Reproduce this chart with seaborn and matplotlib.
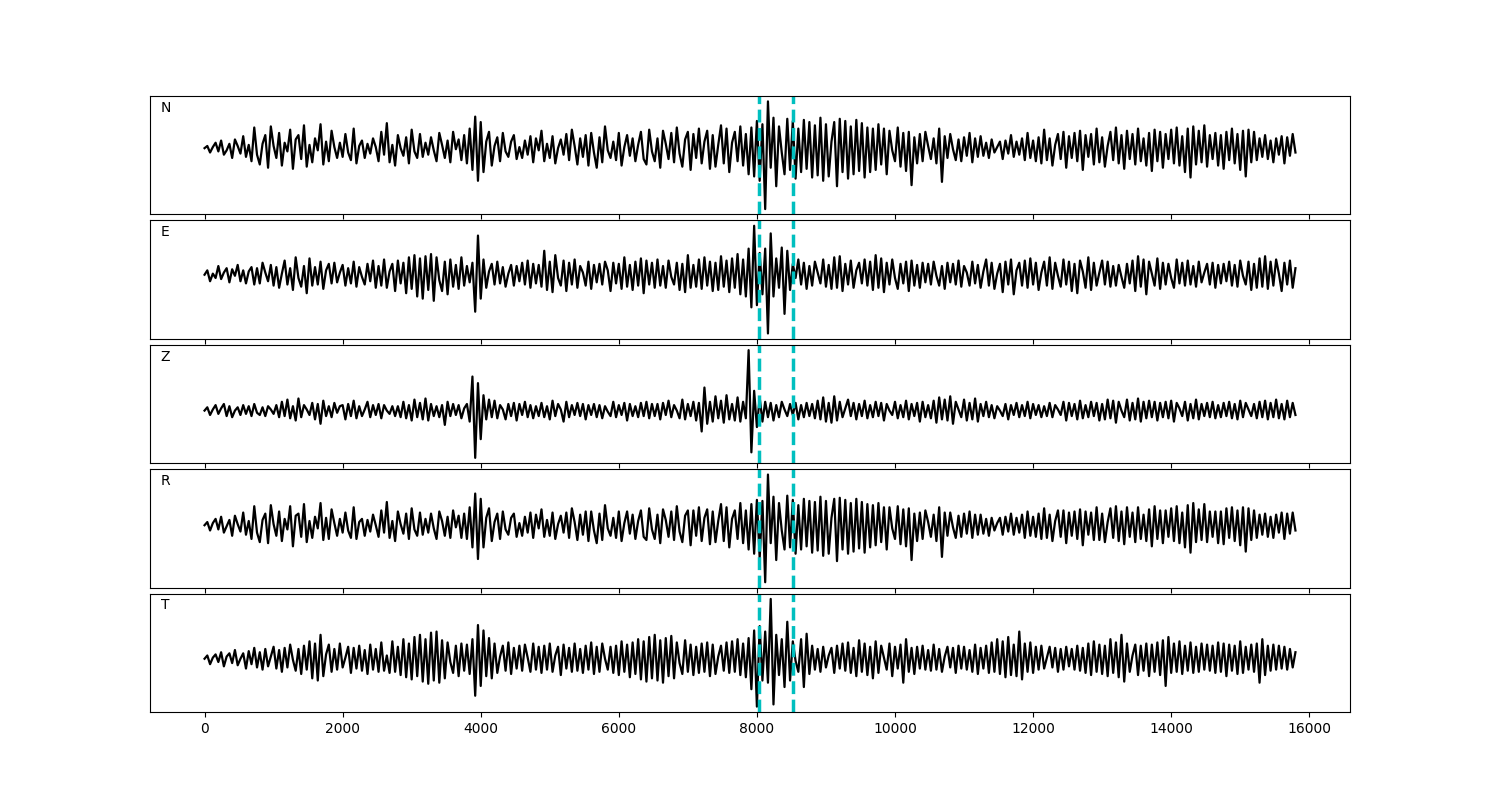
import numpy as np
import matplotlib
matplotlib.use("Agg")
import matplotlib.pyplot as plt
import seaborn as sns

# Data =====================================================================
# traces, one value every DT samples (pixel-ish units)
DT = 40

trace_n = [
    0, 2, -4, 1, 5, -3, 7, -6, -2, 4, -9, 8, 2, -5, 11, -8, 3, -12, 19, -6,
    -15, 4, 12, -18, 20, 2, -9, 14, -16, 5, -3, 17, -19, 8, 12, -10, 21, -17, 3, -13,
    9, -2, 22, -15, 6, -12, 16, 1, -9, 5, -8, 13, -4, -11, 18, -14, 2, 7, -9, 4,
    -5, 9, 1, -12, 15, -6, 23, -13, 3, -16, 12, 0, -7, 10, -14, 17, -3, -9, 13, -8,
    5, -6, 10, -2, -12, 14, 3, -9, 7, -13, 15, -1, 8, -11, 12, -14, 18, -20, 29, -30,
    24, -22, 6, 15, -16, 2, 10, -12, 14, -3, -8, 6, 12, -10, 1, -9, 7, -6, 11, -13,
    9, -2, 16, -12, 4, -9, 11, -14, 0, 8, -6, 13, -11, 17, 2, -15, 9, -8, 12, -16,
    14, -4, -18, 10, -13, 20, -2, -9, 6, -11, 14, -16, 1, 12, -7, 9, -12, 3, 15, -10,
    -15, 17, -3, -12, 9, -18, 16, 4, -10, 14, -13, 19, -5, -17, 8, 15, -20, 13, -9, 18,
    -14, 6, 16, -19, 12, -17, 3, 21, -14, 18, -22, 5, 15, -12, 20, -16, 13, -24, 19, -26,
    25, -30, 22, -56, 43, -18, 28, -35, 20, -4, -24, 27, -20, 25, -28, 18, -22, 26, -19, 24,
    -27, 21, -25, 28, -30, 22, -26, 6, 24, -35, 27, -22, 25, -28, 20, -24, 26, -21, 23, -27,
    19, -22, 18, -20, 22, -15, 18, -24, 16, -2, -12, 19, -17, 14, -21, 15, -34, 10, -14, 13,
    -12, 15, 2, -10, 9, -14, 18, -31, 11, -9, 13, -1, -11, 8, -12, 10, -7, 14, -13, 9,
    -8, 11, -7, 5, -9, 8, -4, 1, 6, -10, 7, -5, 12, -8, 6, -6, 9, -11, 14, -9,
    7, -12, 10, -14, 17, -11, 9, -16, 3, 13, -10, 15, -18, 11, -9, 14, -12, 16, -20, 12,
    -8, 13, -15, 18, -13, 10, -17, 2, 15, -11, 19, -14, 12, -19, 16, -10, 13, -15, 18, -12,
    9, -16, 14, -21, 17, -12, 15, -18, 13, -10, 17, -14, 19, -16, 11, -22, 18, -27, 20, -15,
    16, -13, 21, -17, 12, -10, 14, -16, 12, -19, 15, -11, 18, -14, 13, -20, 16, -26, 17, -13,
    15, -11, 9, -8, 12, -10, 7, -13, 9, -6, 11, -14, 10, -7, 13, -4,
]

trace_e = [
    0, 4, -6, 1, -3, 8, -4, 2, 6, -7, 5, -1, 9, -6, 4, -8, 3, 7, -9, 6,
    -8, 11, 2, -6, 9, -10, 7, -12, 1, 13, -9, 6, -14, 16, -3, -11, 8, -17, 15, -10,
    7, -9, 12, -13, 4, 10, -8, 11, -7, 2, 9, -10, 6, -8, 12, -11, 7, -2, -9, 10,
    -6, 13, -12, 8, -10, 14, -12, 3, 10, -15, 13, -8, 11, -17, 16, -13, 18, -20, 15, -22,
    17, -14, 19, -24, 16, -5, -15, 12, -18, 14, -11, 9, -13, 16, -10, 8, -7, 11, -34, 36,
    -22, 14, -12, 3, 10, -9, 12, -8, 7, -11, 1, 9, -10, 8, -6, 11, -9, 13, -12, 10,
    -8, 9, -11, 22, -14, 12, -16, 18, -3, -10, 13, -15, 11, -9, 14, -12, 8, 2, -10, 12,
    -13, 9, -7, 10, -9, 12, 4, -15, 11, -8, 10, -13, 16, -11, 9, -14, 12, -10, 15, -17,
    13, -9, 11, -12, 14, -10, 8, -12, 13, -2, -9, 11, -14, 10, -16, 18, -12, 9, -11, 14,
    -13, 16, -10, 12, -15, 11, -14, 17, -11, 13, -16, 15, -12, 19, -18, 14, -20, 24, -30, 45,
    -28, 20, -18, 24, -54, 38, -20, 15, -12, 25, -36, 22, -14, 10, -3, 14, -9, 11, -13, 8,
    -10, 12, 2, -8, 14, -11, 9, -13, 16, -12, 17, -15, 10, -9, 13, -12, 4, 11, -8, 14,
    -10, 12, -14, 18, -12, 15, -16, 11, -9, 14, -3, -13, 10, -8, 12, -15, 13, -10, 9, -12,
    11, -7, 10, -9, 12, -1, -10, 8, -13, 11, -7, 10, -9, 13, -11, 8, 2, -10, 12, -8,
    9, -12, 3, 14, -10, 11, -13, 1, 10, -16, 12, -9, 14, -18, 4, 11, -10, 13, -12, 15,
    -9, 11, -14, 2, 12, -10, 16, -13, 11, -1, -11, 14, -9, 12, -15, 10, -17, 13, 3, -12,
    16, -14, 11, -10, 2, 13, -9, 12, -11, 8, -10, 9, -2, -12, 10, -8, 13, -15, 17, -11,
    14, -18, 12, 1, -10, 15, -13, 11, -9, 10, -3, -12, 14, -8, 11, -10, 13, -9, 8, -11,
    12, -7, 2, 10, -9, 11, -12, 9, -8, 10, -6, 12, -10, 9, -11, 13, -1, -9, 12, -14,
    10, -12, 15, -11, 17, -13, 12, -10, 14, 1, -15, 11, -9, 13, -12, 6,
]

trace_z = [
    0, 3, -4, 1, 5, -3, 2, 6, -5, 4, -6, 0, 3, -4, 5, -3, 4, -5, 6, -2,
    -4, 3, -5, 4, 1, -3, 5, -6, 8, -5, 10, -7, 4, -9, 11, -6, 5, 1, -4, 7,
    -8, 6, -12, 9, -5, 4, -6, 7, -2, 4, 5, -8, 6, -5, 9, -7, 4, -5, 1, 8,
    -6, 5, -4, 6, -7, 5, 0, -3, 4, -5, 4, -6, 8, -7, 5, -9, 10, -6, 7, -8,
    11, -9, 6, -5, 4, -6, 5, -13, 8, -5, 6, -4, 5, -7, 2, 6, -10, 31, -43, 25,
    -26, 14, -8, 10, -6, 9, -7, 5, 1, -8, 6, -5, 7, -9, 6, -4, 8, -6, 5, -7,
    4, -5, 7, -6, 4, -8, 9, -5, 6, 1, -10, 8, -6, 5, -4, 7, -5, 6, -8, 5,
    -4, 6, -6, 5, -7, 4, -1, -5, 8, -6, 5, -4, 7, -9, 6, -5, 4, -6, 7, -5,
    8, -7, 6, -5, 6, -8, 7, -4, 9, -6, 5, 0, -7, 10, -8, 6, -5, 8, -9, 7,
    -19, 21, -12, 8, -10, 13, -7, 9, -11, 14, -8, 6, -9, 12, -10, 8, -7, 55, -38, 18,
    -15, 12, -10, 8, -6, 7, -9, 5, -6, 8, 1, -5, 6, -4, 7, -8, 5, -6, 7, -5,
    6, -7, 9, -8, 12, -10, 7, -11, 13, -9, 8, -6, 2, 10, -5, 7, -8, 6, -5, 9,
    -7, 5, -6, 8, -5, 7, -9, 6, 0, -4, 8, -7, 5, -6, 9, -8, 6, -5, 7, -10,
    8, -6, 5, -7, 9, -11, 12, -8, 10, -9, 13, -12, 8, 1, -6, 10, -9, 7, -8, 11,
    -10, 6, -5, 8, -6, 5, -7, 4, 0, -5, 6, -8, 5, -4, 7, -6, 5, -5, 8, -7,
    6, -4, 5, -6, 4, -5, 7, -6, 5, 1, -4, 8, -9, 7, -5, 6, -8, 9, -7, 5,
    -6, 8, -5, 7, -9, 6, -8, 10, -7, 9, -11, 8, 0, -6, 10, -9, 7, -8, 11, -10,
    8, -7, 9, -6, 8, -9, 7, -6, 8, -7, 9, -10, 7, 2, -5, 8, -9, 6, -7, 10,
    -8, 6, -5, 7, -6, 8, -7, 5, -6, 7, -5, 8, -7, 6, -8, 9, -6, 7, 1, -5,
    6, -7, 8, -6, 9, -8, 7, -6, 10, -7, 6, -8, 9, -6, 7, -4,
]

trace_r = [
    0, 3, -5, 2, 6, -4, 8, -7, -1, 5, -10, 9, 1, -6, 12, -9, 4, -13, 18, -7,
    -16, 5, 11, -17, 19, 1, -10, 13, -15, 6, -4, 18, -20, 9, 11, -11, 20, -16, 4, -12,
    8, -3, 21, -14, 7, -13, 15, 2, -10, 6, -7, 12, -5, -12, 17, -13, 3, 6, -10, 5,
    -6, 10, 0, -11, 14, -7, 22, -12, 4, -15, 13, 1, -8, 11, -13, 16, -4, -10, 12, -9,
    6, -7, 11, -3, -13, 13, 4, -10, 8, -12, 14, -2, 9, -12, 11, -13, 17, -21, 30, -32,
    25, -21, 7, 16, -15, 3, 11, -13, 13, -4, -9, 7, 11, -11, 2, -10, 8, -7, 12, -12,
    10, -3, 15, -11, 5, -10, 12, -13, 1, 9, -7, 12, -12, 16, 3, -14, 10, -9, 13, -15,
    13, -5, -17, 11, -14, 19, -3, -10, 7, -12, 13, -15, 2, 13, -8, 10, -13, 4, 14, -11,
    -14, 16, -4, -13, 10, -17, 15, 5, -11, 13, -14, 18, -6, -16, 9, 14, -19, 14, -10, 17,
    -15, 7, 15, -18, 13, -16, 4, 20, -15, 17, -21, 6, 14, -13, 21, -17, 14, -23, 20, -27,
    24, -31, 23, -54, 48, -17, 27, -33, 21, -5, -23, 28, -21, 24, -27, 19, -23, 25, -20, 23,
    -26, 22, -24, 27, -29, 23, -27, 7, 25, -34, 26, -23, 24, -27, 21, -25, 25, -22, 22, -26,
    20, -21, 19, -19, 21, -16, 17, -23, 17, -3, -13, 18, -18, 15, -20, 16, -33, 11, -15, 12,
    -13, 14, 3, -11, 10, -15, 17, -30, 12, -10, 12, -2, -12, 9, -11, 11, -8, 13, -12, 10,
    -9, 10, -8, 6, -10, 7, -5, 2, 7, -9, 8, -6, 11, -9, 7, -7, 10, -12, 13, -10,
    8, -11, 11, -13, 16, -12, 10, -15, 4, 14, -11, 14, -17, 12, -10, 13, -13, 15, -19, 13,
    -9, 12, -14, 17, -14, 11, -16, 3, 16, -12, 18, -15, 13, -18, 17, -11, 12, -16, 17, -13,
    10, -15, 15, -20, 18, -13, 14, -17, 14, -11, 16, -15, 18, -17, 12, -21, 19, -26, 21, -16,
    15, -14, 20, -16, 13, -11, 13, -17, 13, -18, 16, -12, 17, -15, 14, -19, 17, -25, 16, -14,
    14, -12, 10, -9, 11, -11, 8, -12, 10, -7, 12, -13, 11, -8, 12, -5,
]

trace_t = [
    0, 3, -5, 1, 4, -3, 6, -7, 2, 5, -4, 8, -6, 0, 5, -9, 7, -5, 10, -8,
    6, -10, 9, -7, 2, 11, -9, 8, -12, 10, -8, 13, -1, -11, 9, -14, 12, -10, 16, -18,
    14, -20, 22, -16, 4, 13, -12, 9, -10, 14, -8, 1, 11, -13, 10, -9, 12, -11, 8, -14,
    13, -10, 9, -12, 15, -11, 3, -13, 16, -12, 11, -15, 18, -17, 14, -19, 20, -16, 22, -21,
    18, -23, 24, -20, 25, -22, 17, -18, 15, -3, -13, 12, -16, 14, -11, 13, -14, 18, -34, 31,
    -25, 26, -16, 19, -18, 14, -13, 2, 12, -11, 15, -14, 10, -9, 12, -11, 13, 1, -12, 14,
    -10, 11, -13, 12, -10, 14, -12, 3, 11, -15, 13, -9, 10, -12, 14, -11, 9, -13, 12, -10,
    15, -14, 11, -12, 14, 0, -10, 11, -13, 12, -15, 16, -12, 13, -17, 15, -14, 18, -19, 16,
    -21, 20, -18, 22, -20, 17, -22, 19, -16, 21, -18, 15, -4, -14, 17, -12, 13, -15, 11, -13,
    14, -12, 15, -16, 13, -14, 2, 12, -11, 15, -13, 16, -12, 18, -15, 14, -17, 19, -28, 26,
    -44, 30, -20, 25, -22, 55, -42, 22, -15, 18, -26, 34, -20, 16, -2, -12, 18, -26, 23, -14,
    12, -10, 9, -12, 11, -8, 3, 10, -13, 12, -9, 14, -11, 15, -13, 10, -16, 17, -12, 14,
    -15, 11, -18, 16, -13, 12, 1, -10, 14, -16, 11, -9, 13, -22, 18, -12, 10, -14, 11, -9,
    12, -10, 8, -11, 13, -10, 9, -12, 2, 11, -8, 10, -13, 12, -9, 11, -10, 8, -12, 13,
    -14, 10, -9, 12, -13, 15, -12, 18, -14, 16, -17, 20, -15, 13, -16, 25, -19, 14, -12, 15,
    -13, 11, -10, 12, -9, 1, 11, -8, 10, -12, 9, -10, 11, -7, 9, -10, 12, -11, 10, -13,
    14, -15, 16, -12, 13, -14, 12, -16, 18, -13, 15, -17, 22, -21, 14, -12, 3, 13, -15, 12,
    -11, 14, -16, 13, -12, 15, -15, 17, -25, 20, -13, 14, -12, 16, -14, 12, -11, 15, -13, 11,
    -12, 14, -10, 13, -11, 12, -13, 15, -12, 14, -16, 13, -11, 12, -14, 16, -13, 11, -10, 13,
    -12, 14, -22, 18, -15, 12, -11, 13, -10, 12, -9, 11, -10, 9, -8, 6,
]

components = ["N", "E", "Z", "R", "T"]
traces = [trace_n, trace_e, trace_z, trace_r, trace_t]
picks = [8030, 8520]

# Plot =====================================================================
fig, axes = plt.subplots(nrows=5, ncols=1, figsize=(15, 8), sharex=True)
fig.subplots_adjust(left=0.1, right=0.9, top=0.88, bottom=0.11, hspace=0.05)

for ax, comp, tr in zip(axes, components, traces):
    tr = np.asarray(tr, dtype=float)
    t = np.arange(len(tr)) * DT
    sns.lineplot(x=t, y=tr, ax=ax, color="black", linewidth=1.6)
    for p in picks:
        ax.axvline(p, color="c", linestyle="--", linewidth=2.5)
    ax.text(0.009, 0.9, comp, transform=ax.transAxes, fontsize=10, va="center")
    ax.set_yticks([])
    ax.set_ylabel("")

fig.savefig("out.png", dpi=100)
